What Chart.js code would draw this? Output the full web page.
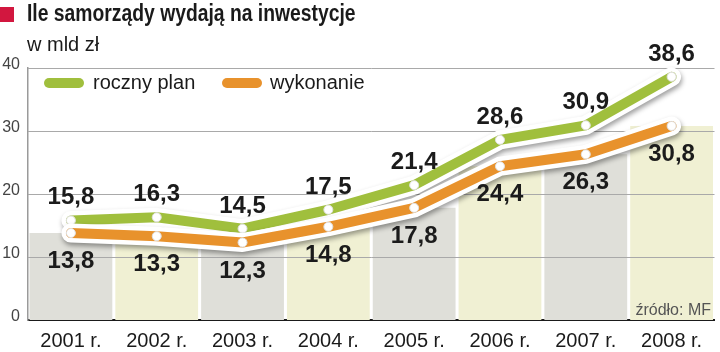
<!DOCTYPE html>
<html>
<head>
<meta charset="utf-8">
<script src="https://cdn.jsdelivr.net/npm/chart.js@4/dist/chart.umd.min.js"></script>
<style>
  html, body { margin: 0; padding: 0; background: #fff; }
  #wrap { position: relative; width: 720px; height: 352px; overflow: hidden; font-family: "Liberation Sans", Arial, sans-serif; }
  #c { position: absolute; left: 0; top: 0; }
  .abs { position: absolute; white-space: nowrap; }
  #redbox { left: 0; top: 7px; width: 14px; height: 15px; background: #d2173f; }
  #title { left: 27px; top: 2px; font-size: 23px; line-height: 23px; font-weight: bold; color: #1a1a1a; transform: scaleX(0.84); transform-origin: 0 0; }
  #subtitle { left: 27px; top: 34px; font-size: 20px; line-height: 20px; color: #1a1a1a; }
  .pill { position: absolute; width: 40px; height: 10px; border-radius: 5px; }
  .legtxt { position: absolute; font-size: 20px; line-height: 20px; color: #1a1a1a; }
  #source { right: 9px; top: 302px; font-size: 16px; line-height: 16px; color: #555; }
</style>
</head>
<body>
<div id="wrap">
  <canvas id="c" width="720" height="352"></canvas>
  <div class="abs" id="redbox"></div>
  <div class="abs" id="title">Ile samorządy wydają na inwestycje</div>
  <div class="abs" id="subtitle">w mld zł</div>
  <div class="pill" style="left:44px;top:78px;background:#a0bf3d"></div>
  <div class="legtxt" style="left:93px;top:72px">roczny plan</div>
  <div class="pill" style="left:222px;top:78px;background:#e8922c"></div>
  <div class="legtxt" style="left:270px;top:72px">wykonanie</div>
  <div class="abs" id="source">źródło: MF</div>
</div>
<script>
const categories = ["2001 r.", "2002 r.", "2003 r.", "2004 r.", "2005 r.", "2006 r.", "2007 r.", "2008 r."];
const rocznyPlan = [15.8, 16.3, 14.5, 17.5, 21.4, 28.6, 30.9, 38.6];
const wykonanie = [13.8, 13.3, 12.3, 14.8, 17.8, 24.4, 26.3, 30.8];
const yTicks = [0, 10, 20, 30, 40];

const GREEN = "#a0bf3d";
const ORANGE = "#e8922c";
const barColors = categories.map((_, i) => (i % 2 === 0 ? "#dfdfd9" : "#f0f0d3"));
const fmt = v => v.toFixed(1).replace(".", ",");

const gridAfterBars = {
  id: "gridAfterBars",
  afterDatasetDraw(chart, args) {
    if (args.index !== 0) return;
    const { ctx, chartArea, scales } = chart;
    ctx.save();
    ctx.strokeStyle = "#a9a9a9";
    ctx.lineWidth = 1;
    yTicks.forEach(t => {
      if (t === 0) return;
      const y = Math.round(scales.y.getPixelForValue(t)) + 0.5;
      ctx.beginPath();
      ctx.moveTo(chartArea.left, y);
      ctx.lineTo(chartArea.right, y);
      ctx.stroke();
    });
    ctx.restore();
  }
};

const haloShadow = {
  id: "haloShadow",
  beforeDatasetDraw(chart, args) {
    const ds = chart.data.datasets[args.index];
    if (!ds.isHalo) return;
    const ctx = chart.ctx;
    ctx.save();
    ctx.shadowColor = "rgba(0,0,0,0.38)";
    ctx.shadowBlur = 5;
    ctx.shadowOffsetX = 1;
    ctx.shadowOffsetY = 3;
  },
  afterDatasetDraw(chart, args) {
    const ds = chart.data.datasets[args.index];
    if (!ds.isHalo) return;
    chart.ctx.restore();
  }
};

const valueLabels = {
  id: "valueLabels",
  afterDatasetsDraw(chart) {
    const ctx = chart.ctx;
    ctx.save();
    ctx.font = "bold 24px 'Liberation Sans', Arial, sans-serif";
    ctx.fillStyle = "#1b1b1b";
    ctx.textAlign = "center";
    ctx.textBaseline = "alphabetic";
    chart.data.datasets.forEach((ds, di) => {
      if (!ds.labelPos) return;
      const meta = chart.getDatasetMeta(di);
      meta.data.forEach((pt, i) => {
        const y = ds.labelPos === "above" ? pt.y - 16 : pt.y + 35;
        ctx.fillText(fmt(ds.data[i]), pt.x, y);
      });
    });
    ctx.restore();
  }
};

new Chart(document.getElementById("c"), {
  data: {
    labels: categories,
    datasets: [
      { type: "bar", data: wykonanie, backgroundColor: barColors, barPercentage: 0.965, categoryPercentage: 1, order: 10 },
      { type: "line", data: rocznyPlan, isHalo: true, borderColor: "#ffffff", borderWidth: 19, pointRadius: 0, borderJoinStyle: "round", borderCapStyle: "round", tension: 0, clip: false, order: 9 },
      { type: "line", data: rocznyPlan, labelPos: "above", borderColor: GREEN, borderWidth: 10, borderJoinStyle: "round", borderCapStyle: "round", pointRadius: 4.5, pointBackgroundColor: "#fff", pointBorderColor: "#e0e0e0", pointBorderWidth: 1, tension: 0, clip: false, order: 8 },
      { type: "line", data: wykonanie, isHalo: true, borderColor: "#ffffff", borderWidth: 19, pointRadius: 0, borderJoinStyle: "round", borderCapStyle: "round", tension: 0, clip: false, order: 7 },
      { type: "line", data: wykonanie, labelPos: "below", borderColor: ORANGE, borderWidth: 10, borderJoinStyle: "round", borderCapStyle: "round", pointRadius: 4.5, pointBackgroundColor: "#fff", pointBorderColor: "#e0e0e0", pointBorderWidth: 1, tension: 0, clip: false, order: 6 }
    ]
  },
  options: {
    responsive: false,
    animation: false,
    events: [],
    layout: { padding: { top: 68, right: 0, left: 0, bottom: 0 } },
    plugins: { legend: { display: false }, tooltip: { enabled: false }, title: { display: false } },
    scales: {
      x: {
        type: "category",
        offset: true,
        grid: { display: false, drawTicks: false },
        border: { display: true, color: "#1a1a1a", width: 2 },
        ticks: { color: "#1a1a1a", padding: 9, font: { family: "'Liberation Sans', Arial, sans-serif", size: 20 }, maxRotation: 0, autoSkip: false },
        afterFit(scale) { scale.height = 32; }
      },
      y: {
        min: 0, max: 40,
        afterBuildTicks(scale) { scale.ticks = yTicks.map(v => ({ value: v })); },
        grid: { display: false, drawTicks: false },
        border: { display: true, color: "#9a9a9a", width: 1.5 },
        ticks: { color: "#444", padding: 8, labelOffset: -3, font: { family: "'Liberation Sans', Arial, sans-serif", size: 16 } },
        afterFit(scale) { scale.width = 28; }
      }
    }
  },
  plugins: [gridAfterBars, haloShadow, valueLabels]
});
</script>
</body>
</html>
